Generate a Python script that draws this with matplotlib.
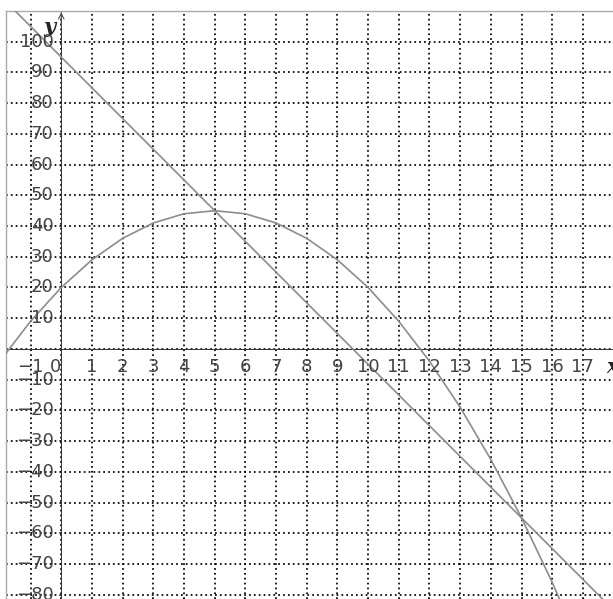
import numpy as np
import matplotlib
matplotlib.use("Agg")
import matplotlib.pyplot as plt

# values
line_x = [-2, 18]
line_y = [115, -85]
curve_x = [-2, -1, 0, 1, 2, 3, 4, 5, 6, 7, 8, 9, 10, 11, 12, 13, 14, 15, 16, 17]
curve_y = [-4, 9, 20, 29, 36, 41, 44, 45, 44, 41, 36, 29, 20, 9, -4, -19, -36, -55, -76, -99]
x_ticks = list(range(-1, 18))
y_ticks = [v for v in range(-80, 101, 10) if v != 0]

W, H = 613, 599
fig = plt.figure(figsize=(W / 100, H / 100), dpi=100)
ax = fig.add_axes([6 / W, 0, (W - 6) / W, (H - 11) / H])
ax.set_xlim(-1.8, 17.98)
ax.set_ylim(-81.4, 110)

for s in ["right", "bottom"]:
    ax.spines[s].set_visible(False)
for s in ["left", "top"]:
    ax.spines[s].set_color("#aaaaaa")
    ax.spines[s].set_linewidth(1.0)
ax.set_xticks([])
ax.set_yticks([])

# dotted grid
dots = (0, (1.0, 1.8))
for x in x_ticks:
    ax.axvline(x, color="black", lw=1.25, ls=dots, dash_capstyle="butt", zorder=1)
for y in y_ticks:
    ax.axhline(y, color="black", lw=1.25, ls=dots, dash_capstyle="butt", zorder=1)
ax.axhline(0, color="black", lw=1.25, ls=dots, dash_capstyle="butt", zorder=1)

# axes through origin
ax.axhline(0, color="#333333", lw=0.7, zorder=2)
ax.axvline(0, color="#333333", lw=0.7, zorder=2)
ax.annotate("", xy=(0, 110.5), xytext=(0, 104), annotation_clip=False,
            arrowprops=dict(arrowstyle="->", color="#555555", lw=0.8))

# curves
ax.plot(line_x, line_y, color="#8c8c8c", lw=1.2, zorder=3)
ax.plot(curve_x, curve_y, color="#8c8c8c", lw=1.2, zorder=3)

tc = "#444444"
for x in x_ticks:
    lab = "\u2212" + str(-x) if x < 0 else str(x)
    xo = -0.2 if x == 0 else 0
    ax.text(x + xo, -5.9, lab, ha="center", va="center", fontsize=13, color=tc, zorder=4)
for y in y_ticks:
    lab = "\u2212" + str(-y) if y < 0 else str(y)
    ax.text(-0.25, y, lab, ha="right", va="center", fontsize=13, color=tc, zorder=4)

ax.text(-0.38, 104.8, "y", ha="center", va="center", fontsize=15, style="italic",
        weight="bold", family="DejaVu Serif", color="#222222")
ax.text(17.98, -6, "x", ha="center", va="center", fontsize=15, style="italic",
        weight="bold", family="DejaVu Serif", color="#222222", clip_on=False)

fig.savefig("out.png", dpi=100, facecolor="white")
